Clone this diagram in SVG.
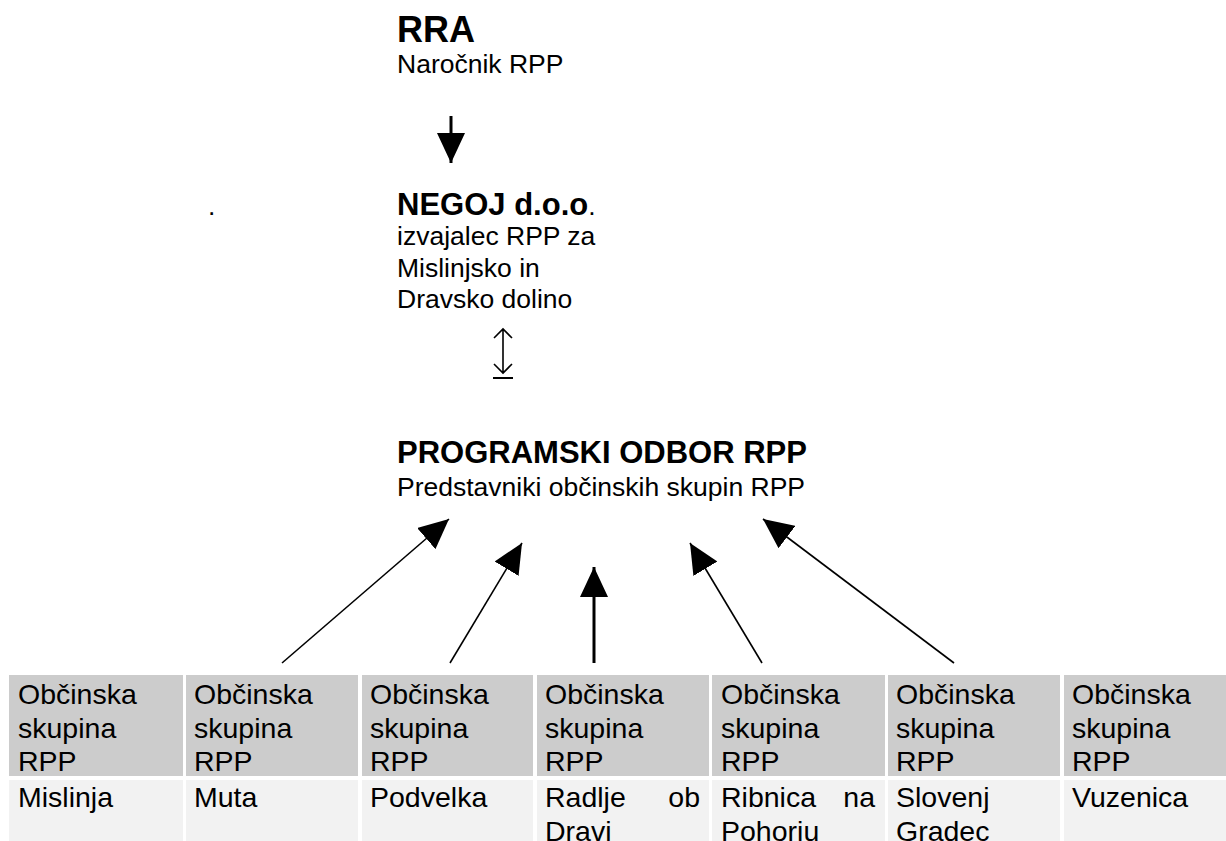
<svg xmlns="http://www.w3.org/2000/svg" width="1226" height="841" viewBox="0 0 1226 841">
<style>
text{font-family:"Liberation Sans",Arial,sans-serif;fill:#000}
.h1{font-size:36px;font-weight:bold}
.h2{font-size:31px;font-weight:bold}
.sub{font-size:26.5px}
.cell{font-size:28.5px}
.hd{fill:#cccccc}
.nm{fill:#f2f2f2}
.ln{stroke:#000;stroke-width:1.6;fill:none}
.thk{stroke:#000;stroke-width:3;fill:none}
</style>
<defs>
<marker id="ah" markerUnits="userSpaceOnUse" markerWidth="30" markerHeight="28" refX="30" refY="14" orient="auto" viewBox="0 0 30 28">
<path d="M0,0 L30,14 L0,28 z" fill="#000"/>
</marker>
</defs>
<rect width="1226" height="841" fill="#fff"/>
<g id="rra">
<text class="h1" x="397" y="42">RRA</text>
<text class="sub" x="397" y="73">Naročnik RPP</text>
</g>
<g id="negoj">
<text class="sub" x="208" y="215">.</text>
<text x="397" y="215"><tspan class="h2">NEGOJ d.o.o</tspan><tspan class="sub">.</tspan></text>
<text class="sub" x="397" y="245">izvajalec RPP za</text>
<text class="sub" x="397" y="277">Mislinjsko in</text>
<text class="sub" x="397" y="308">Dravsko dolino</text>
</g>
<g id="odbor">
<text class="h2" x="397" y="463">PROGRAMSKI ODBOR RPP</text>
<text class="sub" x="397" y="496">Predstavniki občinskih skupin RPP</text>
</g>
<g id="connectors">
<line class="thk" x1="451" y1="116" x2="451" y2="163" marker-end="url(#ah)"/>
<path class="ln" d="M503,329 V373 M494,338 L503,329 L512,338 M494,364 L503,373 L512,364"/>
<line x1="493" y1="378" x2="513" y2="378" stroke="#000" stroke-width="2"/>
<line class="ln" x1="282" y1="663" x2="449" y2="519" marker-end="url(#ah)"/>
<line class="ln" x1="450" y1="663" x2="522" y2="543" marker-end="url(#ah)"/>
<line class="thk" x1="594" y1="663" x2="594" y2="567" marker-end="url(#ah)"/>
<line class="ln" x1="762" y1="663" x2="690" y2="543" marker-end="url(#ah)"/>
<line class="ln" x1="954" y1="663" x2="763" y2="519" marker-end="url(#ah)"/>
</g>
<g id="skupina-mislinja">
<rect class="hd" x="9" y="675" width="174" height="101"/>
<rect class="nm" x="9" y="780" width="174" height="61"/>
<text class="cell" x="18" y="704">Občinska</text>
<text class="cell" x="18" y="738">skupina</text>
<text class="cell" x="18" y="771">RPP</text>
<text class="cell" x="18" y="807">Mislinja</text>
</g>
<g id="skupina-muta">
<rect class="hd" x="186" y="675" width="172" height="101"/>
<rect class="nm" x="186" y="780" width="172" height="61"/>
<text class="cell" x="194" y="704">Občinska</text>
<text class="cell" x="194" y="738">skupina</text>
<text class="cell" x="194" y="771">RPP</text>
<text class="cell" x="194" y="807">Muta</text>
</g>
<g id="skupina-podvelka">
<rect class="hd" x="362" y="675" width="171" height="101"/>
<rect class="nm" x="362" y="780" width="171" height="61"/>
<text class="cell" x="370" y="704">Občinska</text>
<text class="cell" x="370" y="738">skupina</text>
<text class="cell" x="370" y="771">RPP</text>
<text class="cell" x="370" y="807">Podvelka</text>
</g>
<g id="skupina-radlje">
<rect class="hd" x="537" y="675" width="172" height="101"/>
<rect class="nm" x="537" y="780" width="172" height="61"/>
<text class="cell" x="545" y="704">Občinska</text>
<text class="cell" x="545" y="738">skupina</text>
<text class="cell" x="545" y="771">RPP</text>
<text class="cell" x="545" y="807">Radlje</text>
<text class="cell" x="700" y="807" text-anchor="end">ob</text>
<text class="cell" x="545" y="841">Dravi</text>
</g>
<g id="skupina-ribnica">
<rect class="hd" x="712" y="675" width="173" height="101"/>
<rect class="nm" x="712" y="780" width="173" height="61"/>
<text class="cell" x="721" y="704">Občinska</text>
<text class="cell" x="721" y="738">skupina</text>
<text class="cell" x="721" y="771">RPP</text>
<text class="cell" x="721" y="807">Ribnica</text>
<text class="cell" x="875" y="807" text-anchor="end">na</text>
<text class="cell" x="721" y="841">Pohorju</text>
</g>
<g id="skupina-slovenj-gradec">
<rect class="hd" x="888" y="675" width="172" height="101"/>
<rect class="nm" x="888" y="780" width="172" height="61"/>
<text class="cell" x="896" y="704">Občinska</text>
<text class="cell" x="896" y="738">skupina</text>
<text class="cell" x="896" y="771">RPP</text>
<text class="cell" x="896" y="807">Slovenj</text>
<text class="cell" x="896" y="841">Gradec</text>
</g>
<g id="skupina-vuzenica">
<rect class="hd" x="1064" y="675" width="162" height="101"/>
<rect class="nm" x="1064" y="780" width="162" height="61"/>
<text class="cell" x="1072" y="704">Občinska</text>
<text class="cell" x="1072" y="738">skupina</text>
<text class="cell" x="1072" y="771">RPP</text>
<text class="cell" x="1072" y="807">Vuzenica</text>
</g>
</svg>
